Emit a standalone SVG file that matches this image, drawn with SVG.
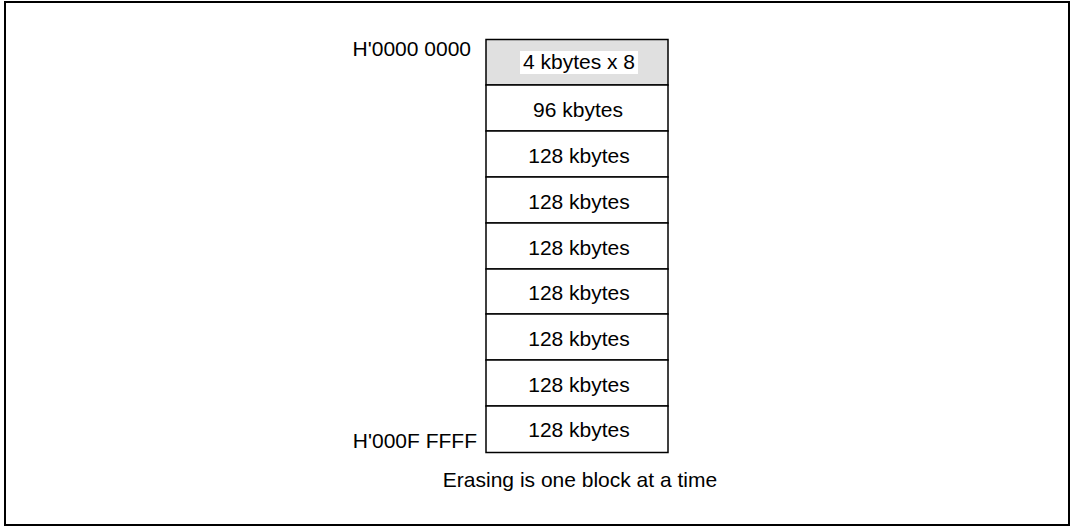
<svg xmlns="http://www.w3.org/2000/svg" width="1072" height="528" viewBox="0 0 1072 528">
<style>
text{font-family:"Liberation Sans",Arial,sans-serif;font-size:21px;fill:#000}
.c{text-anchor:middle}
.cell{fill:#fff;stroke:#000;stroke-width:1.5}
</style>
<rect x="0" y="0" width="1072" height="528" fill="#fff"/>
<rect x="5" y="2" width="1064" height="523" fill="none" stroke="#000" stroke-width="2"/>
<g id="labels">
<text x="471" y="56" text-anchor="end">H'0000 0000</text>
<text x="477" y="448" text-anchor="end">H'000F FFFF</text>
<text x="580" y="487" class="c">Erasing is one block at a time</text>
</g>
<g id="block0"><rect class="cell" x="486" y="39.5" width="182" height="45.5" style="fill:#e0e0e0"/><rect x="520" y="51" width="118" height="23" fill="#fff"/><text x="579" y="69" class="c">4 kbytes x 8</text></g>
<g id="block1"><rect class="cell" x="486" y="85" width="182" height="46"/><text x="578" y="117" class="c">96 kbytes</text></g>
<g id="block2"><rect class="cell" x="486" y="131" width="182" height="46"/><text x="579" y="163" class="c">128 kbytes</text></g>
<g id="block3"><rect class="cell" x="486" y="177" width="182" height="46"/><text x="579" y="209" class="c">128 kbytes</text></g>
<g id="block4"><rect class="cell" x="486" y="223" width="182" height="46"/><text x="579" y="255" class="c">128 kbytes</text></g>
<g id="block5"><rect class="cell" x="486" y="269" width="182" height="45"/><text x="579" y="300" class="c">128 kbytes</text></g>
<g id="block6"><rect class="cell" x="486" y="314" width="182" height="46"/><text x="579" y="346" class="c">128 kbytes</text></g>
<g id="block7"><rect class="cell" x="486" y="360" width="182" height="46"/><text x="579" y="392" class="c">128 kbytes</text></g>
<g id="block8"><rect class="cell" x="486" y="406" width="182" height="46.5"/><text x="579" y="437" class="c">128 kbytes</text></g>
</svg>
